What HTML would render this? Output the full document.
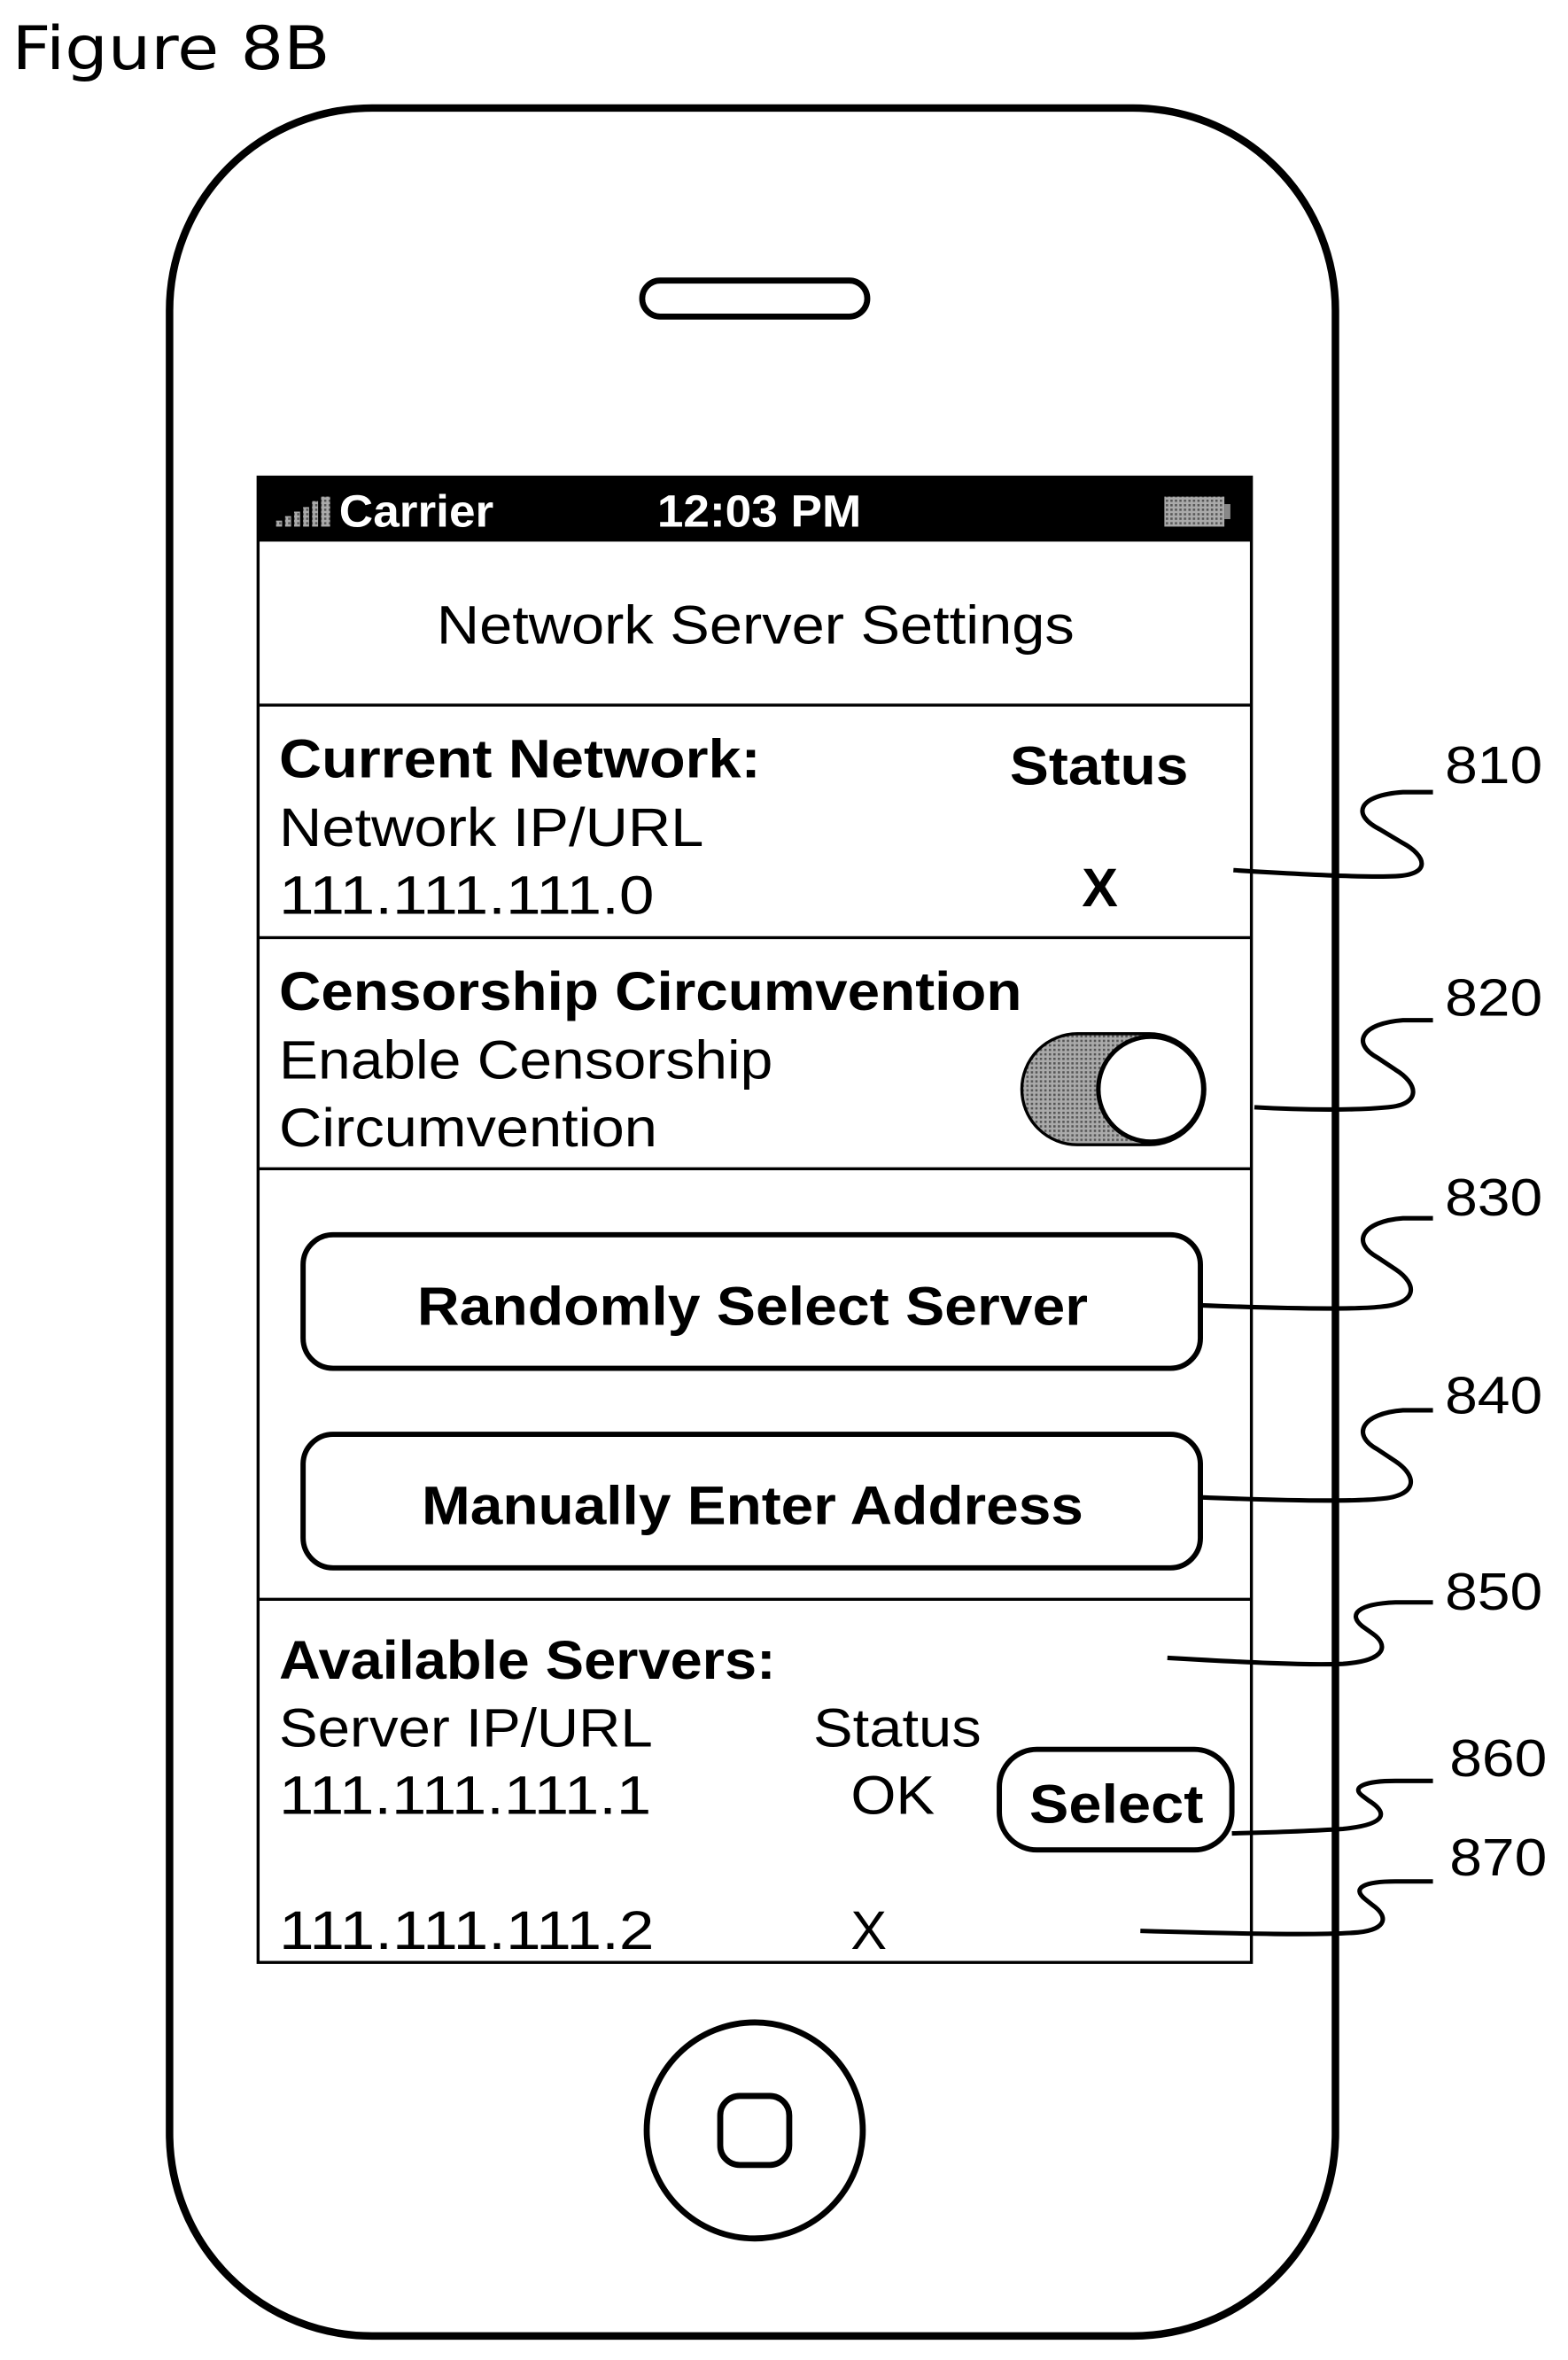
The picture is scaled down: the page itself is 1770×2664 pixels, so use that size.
<!DOCTYPE html>
<html><head><meta charset="utf-8"><style>
html,body{margin:0;padding:0;background:#fff;}
svg{display:block;}
text{font-family:"Liberation Sans",sans-serif;fill:#000;}
</style></head><body>
<svg width="1770" height="2664" viewBox="0 0 1045 1573" preserveAspectRatio="none" xmlns="http://www.w3.org/2000/svg">
<defs>
<pattern id="dots" width="3" height="3" patternUnits="userSpaceOnUse"><rect width="3" height="3" fill="#aaa"/><rect width="1.5" height="1.5" fill="#555"/></pattern>
</defs>
<text x="8" y="46" font-size="40" textLength="212" lengthAdjust="spacingAndGlyphs" style="font-family:'DejaVu Sans','Liberation Sans',sans-serif">Figure 8B</text>
<rect x="113" y="72" width="777" height="1485" rx="135" ry="135" fill="none" stroke="#000" stroke-width="5"/>
<rect x="428" y="187" width="150" height="24" rx="12" fill="none" stroke="#000" stroke-width="4"/>
<rect x="172" y="318" width="662" height="990" fill="none" stroke="#000" stroke-width="2"/>
<rect x="172" y="318" width="662" height="43" fill="#000"/>
<g fill="url(#dots)"><rect x="184" y="347" width="4" height="4"/><rect x="190" y="344" width="4" height="7"/><rect x="196" y="341" width="4" height="10"/><rect x="202" y="338" width="4" height="13"/><rect x="208" y="334" width="4" height="17"/><rect x="214" y="331" width="6" height="20"/><rect x="776" y="331" width="40" height="20"/></g>
<rect x="816" y="336" width="4" height="10" fill="#888"/>
<text x="226" y="351" font-size="30" font-weight="bold" textLength="103" lengthAdjust="spacingAndGlyphs" style="fill:#fff">Carrier</text>
<text x="438" y="351" font-size="30" font-weight="bold" textLength="136" lengthAdjust="spacingAndGlyphs" style="fill:#fff">12:03 PM</text>
<text x="291" y="429" font-size="36" textLength="425" lengthAdjust="spacingAndGlyphs">Network Server Settings</text>
<g stroke="#000" stroke-width="2"><line x1="172" y1="470" x2="834" y2="470"/><line x1="172" y1="625" x2="834" y2="625"/><line x1="172" y1="779" x2="834" y2="779"/><line x1="172" y1="1066" x2="834" y2="1066"/></g>
<g font-size="36" lengthAdjust="spacingAndGlyphs">
<text x="186" y="518" font-weight="bold" textLength="321" lengthAdjust="spacingAndGlyphs">Current Network:</text>
<text x="673" y="523" font-weight="bold" textLength="119" lengthAdjust="spacingAndGlyphs">Status</text>
<text x="186" y="564" textLength="283" lengthAdjust="spacingAndGlyphs">Network IP/URL</text>
<text x="186" y="609" textLength="250" lengthAdjust="spacingAndGlyphs">111.111.111.0</text>
<text x="733" y="604" font-weight="bold" text-anchor="middle">X</text>
<text x="186" y="673" font-weight="bold" textLength="495" lengthAdjust="spacingAndGlyphs">Censorship Circumvention</text>
<text x="186" y="719" textLength="329" lengthAdjust="spacingAndGlyphs">Enable Censorship</text>
<text x="186" y="764" textLength="252" lengthAdjust="spacingAndGlyphs">Circumvention</text>
</g>
<rect x="681" y="689" width="122" height="74" rx="37" fill="url(#dots)" stroke="#000" stroke-width="2"/>
<circle cx="767" cy="726" r="35" fill="#fff" stroke="#000" stroke-width="3"/>
<rect x="202" y="823" width="598" height="89" rx="20" fill="none" stroke="#000" stroke-width="3.5"/>
<text x="278" y="883" font-size="36" font-weight="bold" textLength="447" lengthAdjust="spacingAndGlyphs">Randomly Select Server</text>
<rect x="202" y="956" width="598" height="89" rx="20" fill="none" stroke="#000" stroke-width="3.5"/>
<text x="281" y="1016" font-size="36" font-weight="bold" textLength="441" lengthAdjust="spacingAndGlyphs">Manually Enter Address</text>
<g font-size="36">
<text x="186" y="1119" font-weight="bold" textLength="331" lengthAdjust="spacingAndGlyphs">Available Servers:</text>
<text x="186" y="1164" textLength="249" lengthAdjust="spacingAndGlyphs">Server IP/URL</text>
<text x="542" y="1164" textLength="112" lengthAdjust="spacingAndGlyphs">Status</text>
<text x="186" y="1209" textLength="248" lengthAdjust="spacingAndGlyphs">111.111.111.1</text>
<text x="567" y="1209" textLength="56" lengthAdjust="spacingAndGlyphs">OK</text>
<text x="186" y="1299" textLength="250" lengthAdjust="spacingAndGlyphs">111.111.111.2</text>
<text x="567" y="1299" textLength="24" lengthAdjust="spacingAndGlyphs">X</text>
</g>
<rect x="666" y="1166" width="155" height="67" rx="25" fill="none" stroke="#000" stroke-width="3.5"/>
<text x="686" y="1215" font-size="36" font-weight="bold" textLength="116" lengthAdjust="spacingAndGlyphs">Select</text>
<circle cx="503" cy="1420" r="72" fill="none" stroke="#000" stroke-width="4"/>
<rect x="480" y="1397" width="46" height="46" rx="13" fill="none" stroke="#000" stroke-width="4"/>
<g font-size="35">
<text x="963" y="522" textLength="65" lengthAdjust="spacingAndGlyphs">810</text>
<text x="963" y="677" textLength="65" lengthAdjust="spacingAndGlyphs">820</text>
<text x="963" y="810" textLength="65" lengthAdjust="spacingAndGlyphs">830</text>
<text x="963" y="942" textLength="65" lengthAdjust="spacingAndGlyphs">840</text>
<text x="963" y="1073" textLength="65" lengthAdjust="spacingAndGlyphs">850</text>
<text x="966" y="1184" textLength="65" lengthAdjust="spacingAndGlyphs">860</text>
<text x="966" y="1250" textLength="65" lengthAdjust="spacingAndGlyphs">870</text>
</g>
<g fill="none" stroke="#000" stroke-width="3">
<path d="M822 580 C870 583 910 585 930 584 C955 583 950 570 935 562 L920 553 C900 543 905 530 935 528 L955 528"/>
<path d="M836 738 C870 740 905 740 925 738 C948 736 945 722 930 713 L918 705 C900 695 908 682 935 680 L955 680"/>
<path d="M800 870 C850 872 900 873 920 871 C945 869 945 856 930 846 L918 838 C900 828 908 814 935 812 L955 812"/>
<path d="M800 998 C850 1000 900 1001 920 999 C945 997 945 984 930 974 L918 966 C900 956 908 942 935 940 L955 940"/>
<path d="M778 1105 C830 1108 870 1110 895 1109 C925 1107 925 1096 915 1089 L908 1084 C898 1076 905 1069 930 1068 L955 1068"/>
<path d="M821 1222 C860 1221 880 1220 895 1219 C925 1216 925 1208 912 1200 L908 1197 C900 1191 910 1187 930 1187 L955 1187"/>
<path d="M760 1287 C830 1289 880 1290 905 1288 C925 1286 925 1277 915 1270 L910 1266 C900 1258 910 1254 930 1254 L955 1254"/>
</g>
</svg>
</body></html>
